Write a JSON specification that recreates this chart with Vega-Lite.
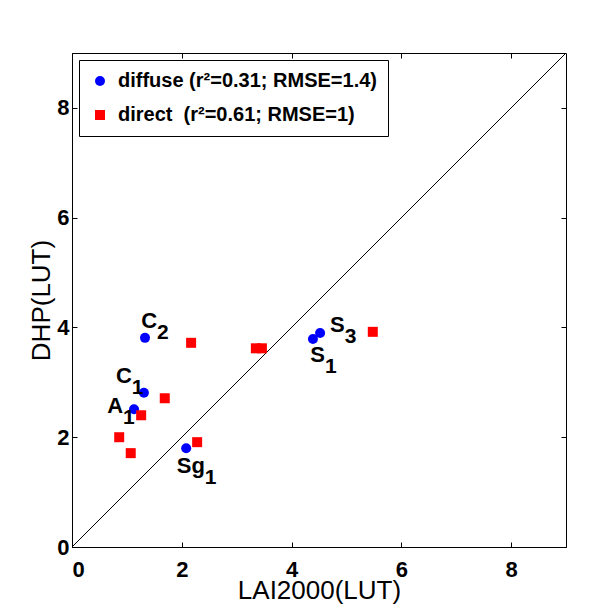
{
  "$schema": "https://vega.github.io/schema/vega-lite/v6.json",
  "width": 494,
  "height": 494,
  "autosize": "none",
  "padding": {"left": 72, "top": 53, "right": 26, "bottom": 64},
  "background": "white",
  "config": {
    "view": {"stroke": "black", "strokeWidth": 1},
    "font": "Liberation Sans",
    "axis": {
      "grid": false,
      "domainColor": "black",
      "tickColor": "black",
      "tickSize": -5,
      "labelFont": "Liberation Sans",
      "labelFontWeight": "bold",
      "labelFontSize": 22,
      "labelColor": "black",
      "titleFont": "Liberation Sans",
      "titleFontWeight": "normal",
      "titleFontSize": 26,
      "titleColor": "black"
    }
  },
  "datasets": {
    "diag": [{"x": 0, "y": 0, "x2": 9, "y2": 9}],
    "pts": [
      {"series": "diffuse (r²=0.31; RMSE=1.4)", "lai": 1.33, "dhp": 3.81},
      {"series": "diffuse (r²=0.31; RMSE=1.4)", "lai": 1.31, "dhp": 2.81},
      {"series": "diffuse (r²=0.31; RMSE=1.4)", "lai": 1.13, "dhp": 2.51},
      {"series": "diffuse (r²=0.31; RMSE=1.4)", "lai": 2.08, "dhp": 1.80},
      {"series": "diffuse (r²=0.31; RMSE=1.4)", "lai": 4.39, "dhp": 3.79},
      {"series": "diffuse (r²=0.31; RMSE=1.4)", "lai": 4.52, "dhp": 3.90},
      {"series": "direct \u00a0(r²=0.61; RMSE=1)", "lai": 2.17, "dhp": 3.72},
      {"series": "direct \u00a0(r²=0.61; RMSE=1)", "lai": 1.69, "dhp": 2.71},
      {"series": "direct \u00a0(r²=0.61; RMSE=1)", "lai": 1.26, "dhp": 2.40},
      {"series": "direct \u00a0(r²=0.61; RMSE=1)", "lai": 0.86, "dhp": 2.00},
      {"series": "direct \u00a0(r²=0.61; RMSE=1)", "lai": 1.07, "dhp": 1.71},
      {"series": "direct \u00a0(r²=0.61; RMSE=1)", "lai": 2.28, "dhp": 1.91},
      {"series": "direct \u00a0(r²=0.61; RMSE=1)", "lai": 3.35, "dhp": 3.62},
      {"series": "direct \u00a0(r²=0.61; RMSE=1)", "lai": 3.46, "dhp": 3.62},
      {"series": "direct \u00a0(r²=0.61; RMSE=1)", "lai": 5.48, "dhp": 3.92}
    ],
    "labels": [
      {"base": "C", "sub": "2", "lx": 1.55, "ly": 3.99},
      {"base": "C", "sub": "1", "lx": 1.09, "ly": 2.99},
      {"base": "A", "sub": "1", "lx": 0.93, "ly": 2.44},
      {"base": "Sg", "sub": "1", "lx": 2.42, "ly": 1.35},
      {"base": "S", "sub": "3", "lx": 4.97, "ly": 3.92},
      {"base": "S", "sub": "1", "lx": 4.61, "ly": 3.37}
    ]
  },
  "layer": [
    {
      "data": {"name": "diag"},
      "mark": {"type": "rule", "color": "black", "strokeWidth": 1},
      "encoding": {
        "x": {"field": "x", "type": "quantitative", "scale": {"domain": [0, 9], "nice": false},
              "axis": {"orient": "top", "labels": false, "title": null, "values": [0, 2, 4, 6, 8], "domain": false}},
        "y": {"field": "y", "type": "quantitative", "scale": {"domain": [0, 9], "nice": false},
              "axis": {"orient": "right", "labels": false, "title": null, "values": [0, 2, 4, 6, 8], "domain": false}},
        "x2": {"field": "x2"},
        "y2": {"field": "y2"}
      }
    },
    {
      "data": {"name": "pts"},
      "mark": {"type": "point", "filled": true, "opacity": 1, "size": 100},
      "encoding": {
        "x": {"field": "lai", "type": "quantitative", "scale": {"domain": [0, 9], "nice": false},
              "axis": {"orient": "bottom", "title": "LAI2000(LUT)", "values": [0, 2, 4, 6, 8], "labelPadding": 17, "titlePadding": -3}},
        "y": {"field": "dhp", "type": "quantitative", "scale": {"domain": [0, 9], "nice": false},
              "axis": {"orient": "left", "title": "DHP(LUT)", "values": [0, 2, 4, 6, 8], "labelPadding": 8, "titlePadding": 2}},
        "color": {"field": "series", "type": "nominal",
                  "scale": {"domain": ["diffuse (r²=0.31; RMSE=1.4)", "direct \u00a0(r²=0.61; RMSE=1)"], "range": ["#0000ff", "#ff0000"]},
                  "legend": {"orient": "top-left", "offset": 7, "title": null, "strokeColor": "black", "fillColor": "white",
                             "padding": 11, "labelFont": "Liberation Sans", "labelFontWeight": "bold", "labelFontSize": 20,
                             "labelColor": "black", "symbolSize": 100, "rowPadding": 14, "labelOffset": 8, "symbolStrokeWidth": 0, "labelLimit": 400}},
        "shape": {"field": "series", "type": "nominal",
                  "scale": {"domain": ["diffuse (r²=0.31; RMSE=1.4)", "direct \u00a0(r²=0.61; RMSE=1)"], "range": ["circle", "square"]}}
      }
    },
    {
      "data": {"name": "labels"},
      "mark": {"type": "text", "align": "right", "baseline": "alphabetic", "fontSize": 22, "fontWeight": "bold", "color": "black", "font": "Liberation Sans"},
      "encoding": {
        "x": {"field": "lx", "type": "quantitative", "axis": null},
        "y": {"field": "ly", "type": "quantitative", "axis": null},
        "text": {"field": "base"}
      }
    },
    {
      "data": {"name": "labels"},
      "mark": {"type": "text", "align": "left", "baseline": "alphabetic", "dy": 11, "fontSize": 21, "fontWeight": "bold", "color": "black", "font": "Liberation Sans"},
      "encoding": {
        "x": {"field": "lx", "type": "quantitative", "axis": null},
        "y": {"field": "ly", "type": "quantitative", "axis": null},
        "text": {"field": "sub"}
      }
    }
  ],
  "resolve": {"axis": {"x": "independent", "y": "independent"}}
}
